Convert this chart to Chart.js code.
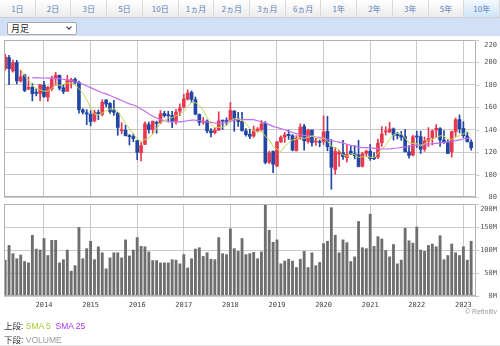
<!DOCTYPE html>
<html>
<head>
<meta charset="utf-8">
<script src="https://cdn.jsdelivr.net/npm/chart.js@4.4.1/dist/chart.umd.min.js"></script>
<style>
  body { margin: 0; width: 500px; height: 346px; overflow: hidden; background: #fff; position: relative;
         font-family: "Liberation Sans", "Noto Sans CJK JP", sans-serif; }
  .tabs { position: absolute; left: 0; top: 0; width: 500px; height: 18px; display: flex; }
  .tabs div { flex: 1; height: 17px; border-right: 1px solid #d9d9d9; border-bottom: 1px solid #d0d0d0;
              background: linear-gradient(#ffffff, #ebebeb); color: #5a80b8; font-size: 8px;
              line-height: 18px; text-align: center; font-family: "Noto Sans CJK JP", sans-serif; }
  .tabs div.on { background: linear-gradient(#f3f9ff, #cfe5f7); }
  .bar { position: absolute; left: 0; top: 18px; width: 500px; height: 18px; background: #d2e0f7; }
  .sel { position: absolute; left: 7px; top: 22px; width: 68px; height: 11px; background: #fff;
         border: 1px solid #a8a8a8; border-radius: 2px; font-size: 9px; line-height: 11px; color: #222;
         font-family: "Noto Sans CJK JP", sans-serif; }
  .sel span { position: absolute; left: 3px; top: 0; }
  .sel i { position: absolute; right: 5px; top: 2px; width: 3px; height: 3px; border-right: 1.3px solid #333;
           border-bottom: 1.3px solid #333; transform: rotate(45deg); }
  canvas { position: absolute; left: 0; }
  #priceChart { top: 34px; }
  #volumeChart { top: 198px; }
  .credit { position: absolute; right: 3px; top: 308px; font-size: 7px; color: #9a9a9a; }
  .note { position: absolute; left: 4px; font-size: 8.5px; color: #333; white-space: nowrap; }
  .sma5 { color: #9fcb2e; }
  .sma25 { color: #a733ee; }
  .vol { color: #9a9a9a; }
  .rule { position: absolute; left: 0; top: 345px; width: 500px; height: 1px; background: #e6e6e6; }
</style>
</head>
<body>
<div class="tabs" id="tabs"></div>
<div class="bar"></div>
<div class="sel"><span>月足</span><i></i></div>
<canvas id="priceChart" width="500" height="170"></canvas>
<canvas id="volumeChart" width="500" height="115"></canvas>
<div class="credit">© Refinitiv</div>
<div class="note" style="top:319px">上段: <span class="sma5">SMA 5</span>&nbsp; <span class="sma25">SMA 25</span></div>
<div class="note" style="top:333px">下段: <span class="vol">VOLUME</span></div>
<div class="rule"></div>

<script>
// 期間タブ
const periodTabs = ['1日', '2日', '3日', '5日', '10日', '1ヵ月', '2ヵ月', '3ヵ月', '6ヵ月', '1年', '2年', '3年', '5年', '10年'];
const activeTab = '10年';

// 月足 2013/03 - 2023/03
const startYear = 2013;
const startMonth = 3;

const opens = [
  194.5, 204.3, 192.5, 199.9, 183.5, 188.8, 176.3, 177.9, 172.6, 172.3,
  179.7, 169.0, 176.5, 185.4, 188.4, 177.4, 174.4, 182.7, 185.0, 182.3, 157.6, 155.1,
  153.8, 148.0, 155.4, 153.8, 166.5, 163.4, 157.2, 154.9, 139.1, 139.5, 134.8, 134.0,
  130.2, 119.4, 126.9, 144.5, 140.2, 146.5, 146.3, 154.6, 152.6, 152.6, 147.4, 156.5,
  160.3, 167.2, 173.2, 166.8, 153.6, 146.7, 147.8, 139.1, 137.5, 139.6, 147.9, 148.0,
  148.3, 156.7, 149.8, 147.6, 138.9, 136.0, 134.4, 139.2, 140.2, 145.6, 110.9, 120.6,
  107.5, 129.0, 133.5, 135.8, 134.7, 121.2, 132.5, 142.9, 129.5, 139.7, 129.1, 129.2,
  129.6, 138.5, 124.8, 104.5, 118.3, 119.6, 115.0, 120.8, 118.5, 117.5, 107.5, 118.9,
  120.9, 115.5, 115.6, 128.4, 138.0, 138.0, 140.7, 135.8, 135.2, 133.9, 120.2, 117.4,
  134.1, 133.8, 122.7, 129.7, 133.0, 139.7, 141.0, 130.8, 128.4, 120.2, 138.1, 149.0,
  141.1, 134.5, 128.9
];
const highs = [
  207.3, 206.3, 202.0, 201.9, 192.9, 189.4, 187.1, 181.1, 176.5, 180.3,
  183.2, 178.7, 187.8, 191.2, 188.9, 180.5, 188.5, 185.9, 186.3, 183.3, 158.7, 157.9,
  156.8, 157.4, 157.6, 166.8, 166.8, 164.2, 166.3, 155.4, 146.3, 144.0, 135.7, 136.3,
  130.6, 128.6, 147.0, 146.9, 147.7, 147.7, 157.1, 156.5, 156.5, 156.5, 158.1, 163.1,
  171.7, 175.5, 174.6, 169.2, 154.1, 150.9, 148.8, 141.1, 141.6, 156.0, 148.2, 150.6,
  164.3, 156.9, 155.6, 155.5, 141.1, 140.4, 143.3, 142.0, 148.2, 147.3, 120.8, 121.2,
  129.6, 134.6, 137.6, 139.6, 135.7, 134.8, 145.2, 144.9, 140.5, 139.9, 132.4, 131.0,
  152.4, 152.0, 131.3, 124.1, 121.8, 130.5, 126.9, 125.3, 125.8, 130.5, 119.9, 121.8,
  126.9, 119.6, 131.6, 142.8, 142.6, 146.7, 141.6, 137.7, 138.6, 140.2, 125.9, 135.0,
  138.8, 138.8, 133.5, 141.9, 139.8, 144.7, 141.9, 139.3, 130.9, 138.9, 150.5, 153.2,
  147.2, 137.4, 131.0
];
const lows = [
  193.1, 180.2, 191.4, 180.9, 182.4, 173.9, 175.6, 165.7, 170.2, 165.8,
  168.8, 165.3, 174.9, 179.5, 175.3, 172.1, 174.0, 177.1, 180.9, 154.7, 154.0, 144.5,
  143.5, 146.8, 149.0, 152.4, 160.4, 154.5, 152.8, 135.0, 136.5, 135.0, 126.4, 129.3,
  113.3, 112.2, 126.6, 136.9, 136.8, 136.8, 145.3, 151.2, 146.9, 141.9, 145.0, 152.5,
  159.4, 166.5, 164.4, 153.2, 143.8, 144.8, 137.1, 133.5, 136.2, 139.2, 140.2, 144.2,
  148.2, 138.6, 142.9, 138.7, 134.3, 132.0, 133.2, 138.4, 138.7, 109.5, 109.9, 101.7,
  107.2, 128.6, 128.6, 131.3, 121.1, 121.1, 131.5, 121.8, 128.0, 125.3, 126.0, 124.8,
  126.8, 121.2, 86.9, 100.3, 107.3, 113.6, 111.0, 117.8, 114.0, 106.8, 106.7, 116.2,
  112.7, 113.3, 114.1, 125.2, 135.3, 137.3, 130.8, 131.7, 130.5, 120.5, 114.6, 116.6,
  124.2, 118.8, 120.7, 124.9, 126.4, 132.9, 125.1, 127.7, 118.6, 115.5, 134.0, 137.2,
  133.0, 128.9, 121.7
];
const closes = [
  204.8, 194.4, 199.7, 183.5, 187.2, 175.0, 177.8, 172.0, 172.5, 180.1,
  169.6, 177.8, 184.8, 188.6, 177.0, 174.0, 184.0, 184.6, 182.2, 157.8, 155.7, 154.0,
  147.2, 155.4, 154.1, 164.4, 162.9, 156.2, 155.5, 142.0, 139.2, 134.5, 133.8, 132.1,
  119.8, 125.8, 145.4, 140.1, 147.6, 145.7, 154.2, 152.5, 152.5, 147.6, 155.7, 159.4,
  167.5, 172.6, 167.1, 153.9, 146.5, 147.6, 138.9, 137.3, 139.3, 147.9, 147.8, 147.3,
  157.2, 149.6, 147.3, 139.2, 135.6, 134.1, 139.1, 140.6, 145.2, 110.8, 119.3, 109.2,
  129.0, 133.3, 135.5, 134.7, 121.9, 132.4, 142.3, 130.1, 139.6, 128.4, 129.1, 128.6,
  138.0, 124.9, 106.5, 120.6, 119.9, 116.0, 118.0, 118.4, 116.8, 107.2, 118.6, 120.9,
  114.3, 114.1, 128.0, 136.2, 138.0, 140.7, 135.4, 134.7, 133.3, 120.1, 117.1, 133.7,
  133.6, 122.5, 130.0, 132.2, 138.8, 141.2, 130.8, 128.5, 118.8, 138.3, 148.9, 140.9,
  134.7, 129.3, 124.0
];
// 出来高 (百万株)
const volumes = [
  78, 110, 92, 81, 89, 75, 72, 132, 102, 100,
  125, 88, 121, 121, 72, 79, 100, 54, 66, 149, 81, 103,
  119, 79, 107, 94, 59, 83, 94, 94, 83, 122, 87, 100,
  127, 108, 107, 96, 77, 77, 72, 72, 72, 79, 78, 70,
  90, 61, 81, 102, 105, 86, 94, 80, 79, 127, 92, 90,
  146, 103, 97, 125, 90, 92, 95, 81, 96, 200, 143, 117,
  122, 70, 76, 80, 76, 62, 80, 97, 62, 94, 66, 73,
  114, 119, 192, 132, 94, 122, 116, 75, 85, 162, 105, 103,
  178, 108, 129, 124, 99, 85, 112, 70, 78, 147, 120, 115,
  150, 100, 97, 110, 113, 107, 131, 79, 88, 113, 94, 88,
  107, 78, 119
];
// SMA 25
const sma25 = [
  null, null, null, null, null, null, null, 186.4, 186.3, 186.2,
  186.1, 186.0, 186.0, 185.8, 185.5, 185.0, 184.5, 184.0, 183.0, 182.0, 180.5, 179.0,
  177.5, 176.0, 174.5, 173.0, 172.0, 170.5, 169.0, 167.5, 166.0, 164.5, 163.0, 162.0,
  160.5, 158.5, 156.5, 154.0, 152.0, 150.5, 149.0, 148.0, 147.5, 147.0, 147.0, 147.0,
  147.5, 148.0, 148.5, 148.5, 148.0, 147.5, 147.0, 146.5, 146.0, 146.0, 146.0, 146.5,
  147.5, 148.5, 149.0, 149.0, 149.0, 149.0, 149.0, 148.0, 147.0, 146.0, 144.5, 143.0,
  142.0, 141.0, 140.0, 138.5, 137.5, 136.5, 135.5, 135.0, 134.5, 134.0, 133.5, 133.0,
  132.5, 131.5, 130.5, 129.5, 129.0, 128.0, 127.0, 126.0, 125.5, 124.5, 124.0, 124.0,
  123.5, 123.5, 123.0, 123.0, 122.8, 123.0, 123.3, 123.7, 124.2, 124.7, 125.2, 125.8,
  126.3, 126.6, 126.9, 127.2, 127.5, 127.9, 128.3, 128.7, 129.2, 129.7, 130.3, 131.0,
  131.7, 132.3, 132.6
];

const priceTicks = [80, 100, 120, 140, 160, 180, 200, 220];
const volumeTicks = [0, 50, 100, 150, 200];

const upColor = '#e8384f';
const downColor = '#2146a3';
const gridColor = '#c9c9c9';
const frameColor = '#b0b0b0';
const labelFont = '7px "DejaVu Sans Mono", monospace';

// タブ
const tabBox = document.getElementById('tabs');
periodTabs.forEach(function(t) {
  const d = document.createElement('div');
  d.textContent = t;
  if (t === activeTab) d.className = 'on';
  tabBox.appendChild(d);
});

// x = 2013年1月からの月数
const xs = closes.map(function(c, i) { return (startMonth - 1) + i; });
const xMin = 1.7;
const xMax = 123.25;

const sma5 = closes.map(function(c, i) {
  if (i < 4) return null;
  let s = 0;
  for (let k = i - 4; k <= i; k++) s += closes[k];
  return s / 5;
});

const candleColors = closes.map(function(c, i) { return c >= opens[i] ? upColor : downColor; });

// 枠と右側の目盛ラベル
const panelFrame = {
  id: 'panelFrame',
  afterDraw(chart, args, opts) {
    const ctx = chart.ctx;
    const a = chart.chartArea;
    const y = chart.scales.y;
    ctx.save();
    ctx.strokeStyle = frameColor;
    ctx.lineWidth = 1;
    ctx.strokeRect(a.left + 0.5, a.top + 0.5, a.right - a.left - 1, a.bottom - a.top - 1);
    ctx.font = labelFont;
    ctx.fillStyle = '#555';
    ctx.textAlign = 'right';
    ctx.textBaseline = 'middle';
    opts.ticks.forEach(function(v) {
      const py = Math.round(y.getPixelForValue(v));
      ctx.strokeStyle = gridColor;
      ctx.beginPath();
      ctx.moveTo(a.right - 1, py + 0.5);
      ctx.lineTo(a.right + 3, py + 0.5);
      ctx.stroke();
      const ty = Math.max(a.top + 5, Math.min(a.bottom + 1, py + 0.5));
      ctx.fillText(opts.format(v), 497, ty);
    });
    ctx.restore();
  }
};

// 年の区切り (1月) に縦線
const xGrid = {
  type: 'linear',
  min: xMin,
  max: xMax,
  offset: false,
  grid: { color: gridColor, drawTicks: false, offset: false },
  border: { display: false }
};

// 上段: ローソク足 + SMA
new Chart(document.getElementById('priceChart'), {
  type: 'bar',
  data: {
    datasets: [
      {
        type: 'line',
        data: xs.map(function(x, i) { return { x: x, y: sma5[i] }; }),
        borderColor: '#bddb55',
        borderWidth: 1,
        pointRadius: 0,
        order: 0
      },
      {
        type: 'line',
        data: xs.map(function(x, i) { return { x: x, y: sma25[i] }; }),
        borderColor: '#c26cec',
        borderWidth: 1.2,
        pointRadius: 0,
        order: 0
      },
      {
        data: xs.map(function(x, i) { return { x: x, y: [opens[i], closes[i]] }; }),
        backgroundColor: candleColors,
        barThickness: 3,
        minBarLength: 1,
        grouped: false,
        order: 1
      },
      {
        data: xs.map(function(x, i) { return { x: x, y: [lows[i], highs[i]] }; }),
        backgroundColor: candleColors,
        barThickness: 1,
        grouped: false,
        order: 2
      }
    ]
  },
  options: {
    responsive: false,
    animation: false,
    devicePixelRatio: 1,
    layout: { padding: { left: 4, top: 6, right: 0, bottom: 7 } },
    plugins: {
      legend: { display: false },
      tooltip: { enabled: false },
      panelFrame: { ticks: priceTicks, format: function(v) { return String(v); } }
    },
    scales: {
      x: Object.assign({}, xGrid, {
        ticks: { display: false, stepSize: 12, includeBounds: false },
        afterFit: function(s) { s.height = 0; }
      }),
      y: {
        position: 'right',
        min: 80,
        max: 220,
        ticks: { display: false, stepSize: 20 },
        grid: { color: gridColor, drawTicks: false },
        border: { display: false },
        afterFit: function(s) { s.width = 24; }
      }
    }
  },
  plugins: [panelFrame]
});

// 下段: 出来高
new Chart(document.getElementById('volumeChart'), {
  type: 'bar',
  data: {
    datasets: [{
      data: xs.map(function(x, i) { return { x: x, y: volumes[i] }; }),
      backgroundColor: '#6e6e6e',
      barThickness: 2.2
    }]
  },
  options: {
    responsive: false,
    animation: false,
    devicePixelRatio: 1,
    layout: { padding: { left: 4, top: 6, right: 0, bottom: 0 } },
    plugins: {
      legend: { display: false },
      tooltip: { enabled: false },
      panelFrame: { ticks: volumeTicks, format: function(v) { return v + 'M'; } }
    },
    scales: {
      x: Object.assign({}, xGrid, {
        ticks: {
          stepSize: 12,
          includeBounds: false,
          maxRotation: 0,
          autoSkip: false,
          padding: 5,
          color: '#444',
          font: { family: '"DejaVu Sans Mono", monospace', size: 7 },
          callback: function(v) { return String(startYear + v / 12); }
        },
        afterFit: function(s) { s.height = 17; }
      }),
      y: {
        position: 'right',
        min: 0,
        max: 200,
        ticks: { display: false, stepSize: 50 },
        grid: { color: gridColor, drawTicks: false },
        border: { display: false },
        afterFit: function(s) { s.width = 24; }
      }
    }
  },
  plugins: [panelFrame]
});
</script>
</body>
</html>
